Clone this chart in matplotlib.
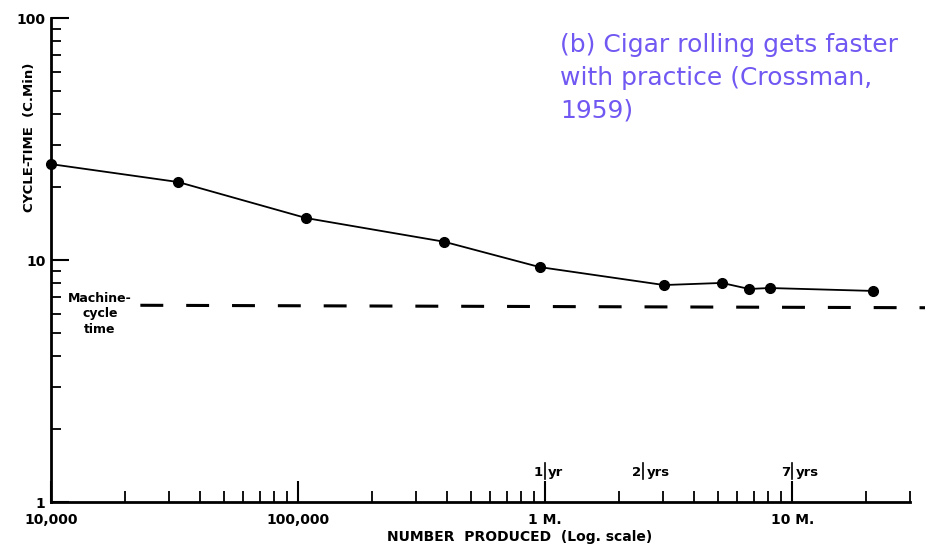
import matplotlib.pyplot as plt
import numpy as np
from matplotlib.ticker import FixedLocator, NullFormatter

# Crossman (1959) cigar rolling data
number_produced = [1.0e4, 3.27e4, 1.08e5, 3.9e5, 9.5e5, 3.03e6, 5.2e6, 6.7e6, 8.1e6, 2.13e7]
cycle_time = [24.9, 21.0, 14.9, 11.9, 9.35, 7.88, 8.04, 7.59, 7.66, 7.45]

machine_x = [2.3e4, 3.45e7]
machine_y = [6.5, 6.35]

x_ticks = [1e4, 1e5, 1e6, 1e7]
x_tick_labels = ['10,000', '100,000', '1 M.', '10 M.']
y_ticks = [1, 10, 100]
y_tick_labels = ['1', '10', '100']

year_marks = [1e6, 2.5e6, 1e7]
year_left = ['1', '2', '7']
year_right = ['yr', 'yrs', 'yrs']

title = '(b) Cigar rolling gets faster\nwith practice (Crossman,\n1959)'

W, H = 931, 549
fig = plt.figure(figsize=(W / 100, H / 100), dpi=100)
ax = fig.add_axes([51 / W, 1 - 502 / H, 859 / W, 484 / H])

ax.set_xscale('log')
ax.set_yscale('log')
ax.set_xlim(1e4, 3e7)
ax.set_ylim(1, 100)

ax.plot(number_produced, cycle_time, '-', color='black', lw=1.3,
        marker='o', ms=7, clip_on=False, zorder=3)
ax.plot(machine_x, machine_y, color='black', lw=2.2,
        dashes=(7.5, 7.5), clip_on=False)

for s in ['top', 'right']:
    ax.spines[s].set_visible(False)
for s in ['left', 'bottom']:
    ax.spines[s].set_linewidth(2.0)

ax.set_xticks(x_ticks)
ax.set_xticklabels(x_tick_labels)
ax.set_yticks(y_ticks)
ax.set_yticklabels(y_tick_labels)

x_minor = [m * d for d in [1e4, 1e5, 1e6, 1e7] for m in range(2, 10) if m * d <= 3e7]
ax.xaxis.set_minor_locator(FixedLocator(x_minor))
y_minor = [m * d for d in [1, 10] for m in range(2, 10)]
ax.yaxis.set_minor_locator(FixedLocator(y_minor))
ax.xaxis.set_minor_formatter(NullFormatter())
ax.yaxis.set_minor_formatter(NullFormatter())

ax.tick_params(axis='x', which='major', direction='in', length=15, width=1.5,
               labelsize=10, pad=8)
ax.tick_params(axis='x', which='minor', direction='in', length=8, width=1.3)
ax.tick_params(axis='y', which='major', direction='in', length=13, width=1.5,
               labelsize=10, pad=4)
ax.tick_params(axis='y', which='minor', direction='in', length=7, width=1.3)
for lab in ax.get_xticklabels() + ax.get_yticklabels():
    lab.set_fontweight('bold')

# year markers above the x axis
for xm, lt, rt in zip(year_marks, year_left, year_right):
    ax.plot([xm, xm], [1.25, 1.45], color='black', lw=1.2)
    ax.text(xm / 1.02, 1.33, lt, ha='right', va='center', fontsize=9.5,
            fontweight='bold')
    ax.text(xm * 1.03, 1.33, rt, ha='left', va='center', fontsize=9.5,
            fontweight='bold')

fig.text(100 / W, 1 - 314 / H, 'Machine-\ncycle\ntime', ha='center', va='center',
         fontsize=9, fontweight='bold', linespacing=1.25)

fig.text(30 / W, 1 - 137 / H, 'CYCLE-TIME  (C.Min)', rotation=90,
         ha='center', va='center', fontsize=9.5, fontweight='bold')
fig.text(520 / W, 1 - 537 / H, 'NUMBER  PRODUCED  (Log. scale)',
         ha='center', va='center', fontsize=10, fontweight='bold')

fig.text(560 / W, 1 - 33 / H, title, ha='left', va='top', fontsize=18,
         color='#7058F2', linespacing=1.45)

fig.savefig('out.png', dpi=100)
